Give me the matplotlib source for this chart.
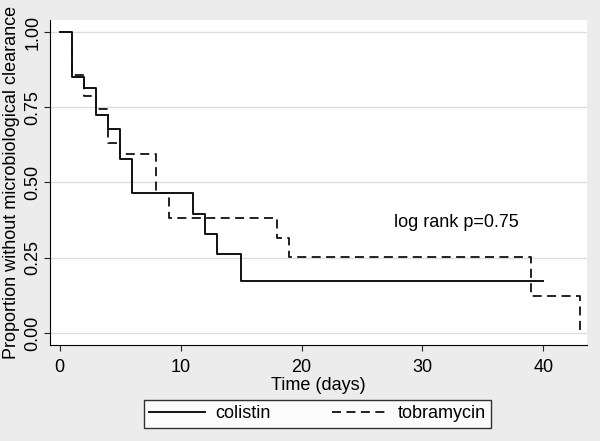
import numpy as np
import matplotlib.pyplot as plt

plt.rcParams['font.family'] = ['Liberation Sans Narrow', 'Liberation Sans', 'DejaVu Sans']

# Kaplan-Meier estimates
col_t = [0, 1, 2, 3, 4, 5, 6, 11, 12, 13, 15, 40]
col_s = [1.0, 0.852, 0.815, 0.724, 0.677, 0.578, 0.464, 0.396, 0.329, 0.261, 0.174, 0.174]

tob_t = [0, 1, 2, 3, 4, 5, 8, 9, 18, 19, 39, 43]
tob_s = [1.0, 0.857, 0.786, 0.743, 0.632, 0.594, 0.466, 0.381, 0.317, 0.254, 0.124, 0.0]

xticks = [0, 10, 20, 30, 40]
yticks = [0.0, 0.25, 0.5, 0.75, 1.0]
ylabels = ['0.00', '0.25', '0.50', '0.75', '1.00']

fig = plt.figure(figsize=(6, 4.41), dpi=100, facecolor='#ececec')
ax = fig.add_axes([0.0833, 0.2177, 0.895, 0.737])
ax.set_facecolor('white')

ax.step(col_t, col_s, where='post', color='#111111', lw=1.4, label='colistin')
ax.step(tob_t, tob_s, where='post', color='#111111', lw=1.3,
        linestyle=(0, (5, 3)), label='tobramycin')

ax.set_xlim(-0.8, 43.6)
ax.set_ylim(-0.04, 1.04)
ax.set_xticks(xticks)
ax.set_yticks(yticks)
ax.set_yticklabels(ylabels, rotation=90, va='center')
ax.tick_params(labelsize=13, length=4, color='#222222')
ax.tick_params(axis='x', pad=6)
ax.tick_params(axis='y', pad=2)
ax.grid(axis='y', color='#dddddd', lw=1)
ax.set_axisbelow(True)

for s in ['top', 'right']:
    ax.spines[s].set_visible(False)

ax.set_xlabel('Time (days)', fontsize=13, labelpad=1)
ax.set_ylabel('Proportion without microbiological clearance', fontsize=13, labelpad=3)

ax.text(32.8, 0.366, 'log rank p=0.75', fontsize=13, ha='center', va='center')

leg = fig.legend(loc='center', bbox_to_anchor=(0.529, 0.062), ncol=2, fontsize=13,
                 frameon=True, fancybox=False, edgecolor='black', handlelength=3.1,
                 handletextpad=0.55, columnspacing=3.4, borderpad=0.3)
leg.get_frame().set_linewidth(1.0)

fig.savefig('out.png', dpi=100, facecolor=fig.get_facecolor())
